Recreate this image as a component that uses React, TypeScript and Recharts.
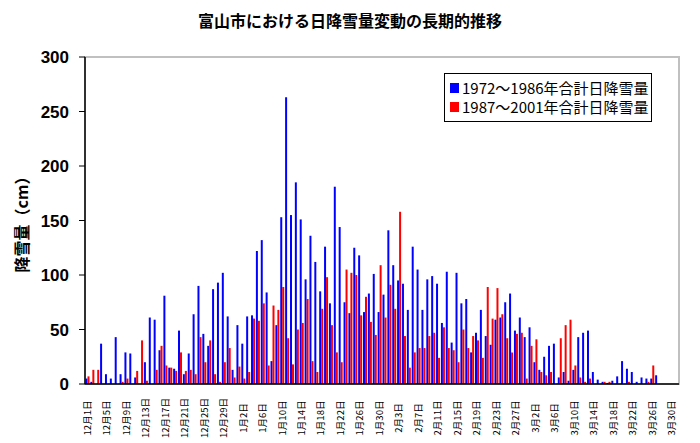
import React from 'react';
import { BarChart, Bar, XAxis, YAxis, ReferenceArea } from 'recharts';

const TITLE = '富山市における日降雪量変動の長期的推移';
const SERIES_A = '1972～1986年合計日降雪量';
const SERIES_B = '1987～2001年合計日降雪量';
const Y_LABEL = '降雪量（cm）';

const months = [12, 1, 2, 3];
const monthLengths = [31, 31, 29, 31];
const dates: string[] = [];
months.forEach((m, i) => {
  for (let d = 1; d <= monthLengths[i]; d++) dates.push(`${m}月${d}日`);
});

const snow7286 = [
  5, 2, 0, 37, 9, 5, 43, 9, 29, 28,
  6, 0, 20, 61, 59, 31, 81, 15, 14, 49,
  9, 28, 64, 90, 46, 35, 87, 93, 102, 62,
  13, 54, 37, 62, 63, 122, 132, 84, 21, 54,
  153, 263, 155, 185, 151, 96, 136, 112, 85, 126,
  74, 181, 144, 75, 65, 125, 118, 66, 83, 101,
  66, 82, 141, 109, 95, 92, 68, 126, 105, 68,
  96, 99, 92, 56, 103, 38, 102, 74, 78, 29,
  47, 68, 44, 36, 59, 61, 75, 83, 49, 61,
  43, 52, 20, 13, 25, 35, 37, 6, 11, 3,
  13, 43, 47, 49, 11, 4, 2, 1, 3, 7,
  21, 14, 11, 2, 6, 5, 5, 8, 0, 0,
  0, 0,
];

const snow8701 = [
  7, 13, 13, 0, 0, 0, 0, 2, 5, 0,
  12, 40, 3, 0, 13, 35, 17, 15, 12, 29,
  12, 13, 9, 43, 20, 40, 9, 2, 20, 33,
  6, 16, 5, 11, 60, 58, 74, 17, 72, 68,
  89, 42, 18, 50, 56, 78, 21, 11, 69, 98,
  54, 29, 20, 105, 102, 100, 63, 80, 57, 45,
  109, 61, 91, 69, 158, 44, 15, 29, 33, 33,
  44, 47, 24, 52, 33, 31, 20, 50, 33, 44,
  40, 24, 89, 60, 88, 64, 42, 29, 46, 47,
  5, 35, 41, 11, 8, 11, 0, 42, 54, 59,
  17, 6, 2, 5, 0, 0, 2, 2, 0, 0,
  0, 2, 0, 0, 0, 2, 17, 0, 0, 0,
  0, 0,
];

const yTicks = [0, 50, 100, 150, 200, 250, 300];

const data = dates.map((d, i) => ({ date: d, a: snow7286[i], b: snow8701[i] }));

const FONT = "'Noto Sans CJK JP', 'Noto Sans', sans-serif";

const XTick = (props: any) => {
  const { x, y, payload } = props;
  return (
    <g transform={`translate(${x},${y + 26}) rotate(-90)`}>
      <text textAnchor="middle" dy="0.35em" fontSize={9.5} fill="#000" fontFamily={FONT}>
        {payload.value}
      </text>
    </g>
  );
};

const legendItems = [
  { c: '#0000ff', t: SERIES_A },
  { c: '#ff0000', t: SERIES_B },
];

export default function App() {
  return (
    <div style={{ position: 'absolute', left: 0, top: 0, width: 700, height: 443, background: '#fff' }}>
      <div
        style={{
          position: 'absolute',
          left: 0,
          top: 9,
          width: 700,
          textAlign: 'center',
          fontFamily: FONT,
          fontWeight: 'bold',
          fontSize: 16,
          lineHeight: '22px',
          color: '#000',
        }}
      >
        {TITLE}
      </div>
      <BarChart
        width={700}
        height={443}
        data={data}
        margin={{ top: 57, right: 21, bottom: 0, left: 0 }}
        barCategoryGap="10%"
        barGap={0}
      >
        <ReferenceArea y1={0} y2={300} fill="none" stroke="#c0c0c0" strokeWidth={2} ifOverflow="visible" />
        <XAxis
          dataKey="date"
          interval={3}
          height={59}
          tickLine={false}
          axisLine={{ stroke: '#000', strokeWidth: 1.5 }}
          tick={<XTick />}
        />
        <YAxis
          width={85}
          domain={[0, 300]}
          ticks={yTicks}
          allowDataOverflow
          tickSize={6}
          tickMargin={10}
          axisLine={{ stroke: '#000', strokeWidth: 1.5 }}
          tickLine={{ stroke: '#000' }}
          tick={{ fontSize: 17, fontWeight: 'bold', fill: '#000', fontFamily: "'Liberation Sans', Arial, sans-serif" }}
          label={{
            value: Y_LABEL,
            angle: -90,
            position: 'insideLeft',
            offset: 22,
            style: { textAnchor: 'middle', fontWeight: 'bold', fontSize: 16, fill: '#000', fontFamily: FONT },
          }}
        />
        <Bar dataKey="a" name={SERIES_A} fill="#0000ff" isAnimationActive={false} />
        <Bar dataKey="b" name={SERIES_B} fill="#ff0000" isAnimationActive={false} />
      </BarChart>
      <div
        style={{
          position: 'absolute',
          left: 444,
          top: 73,
          border: '1px solid #000',
          background: '#fff',
          width: 208,
          height: 49,
          boxSizing: 'border-box',
          padding: '4px 0 0 5px',
          fontFamily: FONT,
          fontSize: 15,
          lineHeight: '19px',
          color: '#000',
        }}
      >
        {legendItems.map((e) => (
          <div key={e.t} style={{ display: 'flex', alignItems: 'center', whiteSpace: 'nowrap' }}>
            <span style={{ display: 'inline-block', width: 9, height: 10, background: e.c, marginRight: 3 }} />
            <span>{e.t}</span>
          </div>
        ))}
      </div>
    </div>
  );
}
